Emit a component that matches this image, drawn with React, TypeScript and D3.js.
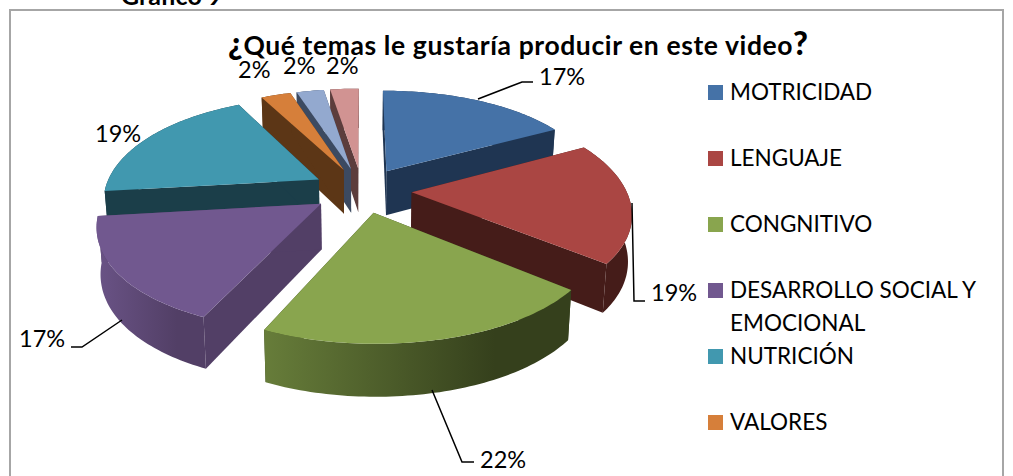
import React from "react";
import * as d3 from "d3";

// ---- data ----
const sliceValues = [16.9, 19.2, 20.6, 16.4, 19.4, 2.6, 2.4, 2.5];
const sliceLabels = ["17%", "19%", "22%", "17%", "19%", "2%", "2%", "2%"];
const topColors = ["#4572a7", "#aa4643", "#89a54e", "#71588f", "#4198af", "#d67f3a", "#93a9cf", "#d19392"];
const wallColors = ["#1f3552", "#451c19", "#35401c", "#523f66", "#1b3e49", "#5c3616", "#3c4a61", "#5c3d3c"];
const rimLightColors = ["#1f3552", "#451c19", "#677d3a", "#6a5386", "#1b3e49", "#5c3616", "#3c4a61", "#5c3d3c"];
const legendNames = [["MOTRICIDAD"], ["LENGUAJE"], ["CONGNITIVO"], ["DESARROLLO SOCIAL Y", "EMOCIONAL"], ["NUTRICIÓN"], ["VALORES"]];
const paintOrder = [7, 6, 5, 4, 0, 1, 3, 2];
const titleText = "Qué temas le gustaría producir en este video";
const captionText = "Grafico 9";

// ---- layout ----
const W = 1013, H = 476;
const FONT = "Lato, Carlito, 'Open Sans', sans-serif";
const CX = 362, CY = 190, RX = 221, RY = 100, PERSP = 0.17, EXPLODE = 0.225, DEPTH = 45, SHRINK = 0.015, FLAT = 0.03;
const labelPos: [number, number][] = [
  [539, 85], [651, 301], [480, 468], [19, 347],
  [95, 142], [238, 78], [283, 74], [326, 74],
];
const leaders: ([number, number][] | null)[] = [
  [[478, 99], [522, 82], [533, 82]],
  [[632, 203], [634, 301], [645, 301]],
  [[432, 390], [462, 462], [474, 462]],
  [[122, 320], [82, 347], [71, 347]],
  null, null, null, null,
];
const legendRowY = d3.scaleLinear().domain([0, 1]).range([85, 151]);

const uScale = d3.scaleLinear().domain([-1, 1]).range([CX - RX, CX + RX]);
const vScale = d3.scaleLinear().domain([-1, 1]).range([RY, -RY]);

function project(u: number, v: number, down: boolean): [number, number] {
  const s = 1 / (1 + PERSP * v);
  let x = CX + (uScale(u) - CX) * s;
  let y = CY + vScale(v) * s;
  if (down) {
    y += DEPTH * Math.pow(s, 0.7);
    x = CX + (x - CX) * (1 - SHRINK);
  }
  return [x, y];
}

const pieGen = d3.pie<number>().sort(null).startAngle(0).endAngle(2 * Math.PI);
const arcs = pieGen(sliceValues);
const lineGen = d3.line<[number, number]>();

function sliceGeometry(i: number) {
  const a = arcs[i];
  const mid = (a.startAngle + a.endAngle) / 2;
  const ou = EXPLODE * Math.sin(mid);
  const ov = EXPLODE * Math.cos(mid);
  const n = Math.max(4, Math.ceil((a.endAngle - a.startAngle) / 0.02));
  const angles = d3.range(n + 1).map((k) => a.startAngle + ((a.endAngle - a.startAngle) * k) / n);
  const radius = (t: number) => 1 - FLAT * Math.pow(Math.sin(t), 4);
  const arcPts = (down: boolean) =>
    angles.map((t) => project(ou + radius(t) * Math.sin(t), ov + radius(t) * Math.cos(t), down));
  const tipTop = project(ou, ov, false);
  const tipBot = project(ou, ov, true);
  const topArc = arcPts(false);
  const botArc = arcPts(true);
  const close = (p: [number, number][]) => lineGen(p) + "Z";
  return {
    top: close([tipTop, ...topArc]),
    rim: close([...topArc, ...botArc.slice().reverse()]),
    wallStart: close([tipTop, topArc[0], botArc[0], tipBot]),
    wallEnd: close([tipTop, topArc[n], botArc[n], tipBot]),
    x0: Math.min(...topArc.map((p) => p[0])),
    x1: Math.max(...topArc.map((p) => p[0])),
  };
}

export default function App() {
  return (
    <svg width={W} height={H} viewBox={`0 0 ${W} ${H}`} style={{ position: "absolute", left: 0, top: 0, display: "block" }} fontFamily={FONT}>
      <defs>
        {sliceValues.map((_, i) => {
          const g = sliceGeometry(i);
          return (
            <linearGradient key={i} id={`rim${i}`} gradientUnits="userSpaceOnUse" x1={g.x0} x2={g.x1} y1={0} y2={0}>
              <stop offset="0%" stopColor={rimLightColors[i]} />
              <stop offset="75%" stopColor={wallColors[i]} />
            </linearGradient>
          );
        })}
      </defs>
      <rect width={W} height={H} fill="#fff" />
      <text x={121} y={5} fontSize={25} fontWeight={700} fill="#000">{captionText}</text>
      <rect x={10} y={10} width={993} height={480} fill="#fff" stroke="#a6a6a6" strokeWidth={2} />
      <text x={228} y={55} fontWeight={700} fill="#000" fontSize={26.5} textLength={580} lengthAdjust="spacing">
        <tspan fontSize={32} fontWeight={900}>¿</tspan>
        {titleText}
        <tspan fontSize={32} fontWeight={900}>?</tspan>
      </text>

      {paintOrder.map((i) => {
        const g = sliceGeometry(i);
        return (
          <g key={i}>
            <path d={g.wallStart} fill={wallColors[i]} />
            <path d={g.wallEnd} fill={wallColors[i]} />
            <path d={g.rim} fill={`url(#rim${i})`} />
            <path d={g.top} fill={topColors[i]} />
          </g>
        );
      })}

      {leaders.map((pts, i) =>
        pts ? <path key={i} d={lineGen(pts) as string} fill="none" stroke="#000" strokeWidth={1.5} /> : null
      )}
      {sliceLabels.map((t, i) => (
        <text key={i} x={labelPos[i][0]} y={labelPos[i][1]} fontSize={23.5} fill="#000">{t}</text>
      ))}

      {legendNames.map((lines, i) => {
        const y = legendRowY(i);
        return (
          <g key={i}>
            <rect x={708} y={y} width={15} height={15} fill={topColors[i]} />
            {lines.map((ln, j) => (
              <text key={j} x={730} y={y + 15 + j * 33} fontSize={22.5} fill="#000">{ln}</text>
            ))}
          </g>
        );
      })}
    </svg>
  );
}
